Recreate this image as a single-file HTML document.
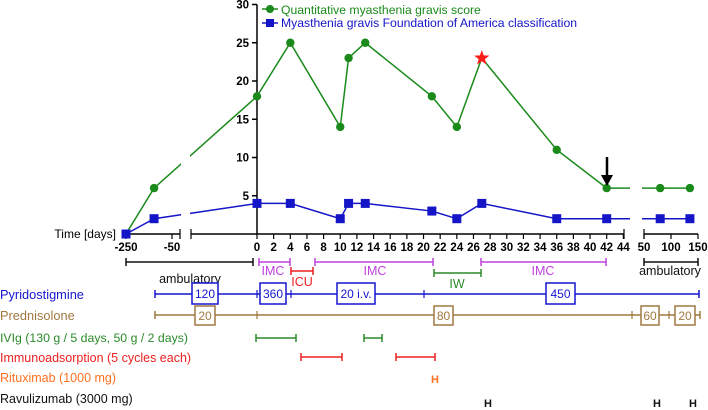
<!DOCTYPE html>
<html><head><meta charset="utf-8"><style>
html,body{margin:0;padding:0;background:#fff;}
svg{display:block;font-family:"Liberation Sans",Arial,sans-serif;}
</style></head><body>
<svg id="chart" width="708" height="410" viewBox="0 0 708 410">
<g id="axes"></g>
<g id="series"></g>
<g id="legend">
 <line x1="262" y1="9" x2="278" y2="9" stroke="#1a8a1a" stroke-width="1.5"/>
 <circle cx="270" cy="9" r="4" fill="#1a8a1a"/>
 <text x="281" y="14" font-size="12.2" fill="#1a8a1a">Quantitative myasthenia gravis score</text>
 <line x1="262" y1="23" x2="278" y2="23" stroke="#1515c8" stroke-width="1.5"/>
 <rect x="266" y="19" width="8" height="8" fill="#1515c8"/>
 <text x="281" y="27" font-size="12.2" fill="#1515c8">Myasthenia gravis Foundation of America classification</text>
</g>
<g id="timeline"></g>
</svg>
<script>
const days = [-250,-128,0,4,10,11,13,21,24,27,36,42,80,135];
const qmg  = [0,6,18,25,14,23,25,18,14,23,11,6,6,6];
const mgfa = [0,2,4,4,2,4,4,3,2,4,2,2,2,2];
const yTicks = [5,10,15,20,25,30];
const xTicksMid = [0,2,4,6,8,10,12,14,16,18,20,22,24,26,28,30,32,34,36,38,40,42,44];
const xTicksLeft = [-250,-50];
const xTicksRight = [50,100,150];

const NS="http://www.w3.org/2000/svg";
function mk(tag,attrs,parent,text){const e=document.createElementNS(NS,tag);for(const k in attrs)e.setAttribute(k,attrs[k]);if(text!==undefined)e.textContent=text;parent.appendChild(e);return e;}
function xsAny(d){ if(d<0) return 126+(d+250)*0.23; if(d<=46) return 257+d*8.326; return 644+(d-50)*0.54; }
function ys(v){ return 234-v*7.65; }

const axes=document.getElementById('axes');
mk('line',{x1:257,y1:ys(30),x2:257,y2:234,stroke:'#000','stroke-width':1.5},axes);
yTicks.forEach(t=>{
  mk('line',{x1:252,y1:ys(t),x2:257,y2:ys(t),stroke:'#000','stroke-width':1.5},axes);
  const tl=mk('text',{x:249,y:ys(t)+4,'font-size':11.5,'font-weight':'bold','text-anchor':'end'},axes,String(t));
  
  
});
mk('line',{x1:126,y1:234,x2:180,y2:234,stroke:'#000','stroke-width':1.5},axes);
mk('line',{x1:180,y1:229,x2:180,y2:239,stroke:'#000','stroke-width':1.2},axes);
mk('line',{x1:191,y1:234,x2:624,y2:234,stroke:'#000','stroke-width':1.5},axes);
mk('line',{x1:191,y1:229,x2:191,y2:239,stroke:'#000','stroke-width':1.2},axes);
mk('line',{x1:624,y1:229,x2:624,y2:239,stroke:'#000','stroke-width':1.2},axes);
mk('line',{x1:644,y1:234,x2:698,y2:234,stroke:'#000','stroke-width':1.5},axes);
mk('line',{x1:644,y1:229,x2:644,y2:239,stroke:'#000','stroke-width':1.2},axes);
function xt(arr){arr.forEach(t=>{const x=xsAny(t);
  mk('line',{x1:x,y1:234,x2:x,y2:239,stroke:'#000','stroke-width':1.2},axes);
  const tl=mk('text',{x:x,y:251,'font-size':11.5,'font-weight':'bold','text-anchor':'middle'},axes,String(t));
  
  
});}
xt(xTicksLeft);xt(xTicksMid);xt(xTicksRight);
mk('text',{x:116,y:238,'font-size':12,'text-anchor':'end'},axes,'Time [days]');

const s=document.getElementById('series');
function line(vals,color,name){
  const pts=days.map((d,i)=>xsAny(d)+','+ys(vals[i])).join(' ');
  const p=mk('polyline',{points:pts,fill:'none',stroke:color,'stroke-width':1.5},s);
  
  
}
line(qmg,'#1a8a1a','qmg-line');
line(mgfa,'#1515c8','mgfa-line');
mk('rect',{x:181,y:20,width:9,height:212,fill:'#fff'},s);
mk('rect',{x:630,y:20,width:12,height:212,fill:'#fff'},s);
days.forEach((d,i)=>{
  const x=xsAny(d);
  if(d===27){
    const cy=ys(qmg[i]);let pts=[];
    for(let k=0;k<10;k++){const r=k%2?3.3:8;const a=-Math.PI/2+k*Math.PI/5;pts.push((x+r*Math.cos(a)).toFixed(1)+','+(cy+r*Math.sin(a)).toFixed(1));}
    const st=mk('polygon',{points:pts.join(' '),fill:'#ff1a1a'},s);
    
    
  } else if(qmg[i]>0){
    const c=mk('circle',{cx:x,cy:ys(qmg[i]),r:4.2,fill:'#1a8a1a'},s);
    
    
  }
  const r=mk('rect',{x:x-4.5,y:ys(mgfa[i])-4.5,width:9,height:9,fill:'#1515c8'},s);
  
  
});
mk('line',{x1:607,y1:157,x2:607,y2:178,stroke:'#000','stroke-width':2.5},s);
mk('polygon',{points:'601,175 613,175 607,186',fill:'#000'},s);

const tg=document.getElementById('timeline');
function bar(x1,x2,y,color,name){
  const g=mk('g',{},tg);
  
  
  mk('line',{x1:x1,y1:y,x2:x2,y2:y,stroke:color,'stroke-width':1.5},g);
  mk('line',{x1:x1,y1:y-4,x2:x1,y2:y+4,stroke:color,'stroke-width':1.5},g);
  mk('line',{x1:x2,y1:y-4,x2:x2,y2:y+4,stroke:color,'stroke-width':1.5},g);
}
function txt(x,y,t,color,anchor,size){return mk('text',{x:x,y:y,'font-size':size||12.5,fill:color,'text-anchor':anchor||'middle'},tg,t);}
function box(x1,x2,y1,y2,t,color){
  mk('rect',{x:x1,y:y1,width:x2-x1,height:y2-y1,fill:'#fff',stroke:color,'stroke-width':1.5},tg);
  txt((x1+x2)/2,(y1+y2)/2+4.5,t,color,'middle',12);
}
function tick(x,y,color){mk('line',{x1:x,y1:y-4,x2:x,y2:y+4,stroke:color,'stroke-width':1.2},tg);}
const K='#111',P='#c040e0',R='#ee2020',G='#2a8a2a',B='#1515d0',BR='#a07840',O='#ff7020';
bar(126,253,262,K,'ambulatory-bar');txt(190,283,'ambulatory',K);
bar(259,290,262,P,'imc-bar-1');txt(273,275,'IMC',P);
bar(291,313,271,R,'icu-bar');txt(302,286,'ICU',R);
bar(315,433,262,P,'imc-bar-2');txt(375,275,'IMC',P);
bar(434,481,273,G,'iw-bar');txt(457,288,'IW',G);
bar(481,606,262,P,'imc-bar-3');txt(543,275,'IMC',P);
bar(644,698,262,K,'ambulatory-bar-2');txt(670,275,'ambulatory',K);

txt(0,299,'Pyridostigmine',B,'start',12.8);
bar(155,699,294,B,'pyridostigmine-bar');
[257,291,424].forEach(x=>tick(x,294,B));
box(192,218,283,304,'120',B);box(260,286,283,304,'360',B);box(337,375,283,304,'20 i.v.',B);box(546,575,283,304,'450',B);
txt(0,320,'Prednisolone',BR,'start',12.8);
bar(155,700,315,BR,'prednisolone-bar');
[257,632,669].forEach(x=>tick(x,315,BR));
box(195,215,306,325,'20',BR);box(434,453,306,325,'80',BR);box(641,659,306,325,'60',BR);box(675,695,306,325,'20',BR);
txt(0,342,'IVIg (130 g / 5 days, 50 g / 2 days)',G,'start',12.3);
bar(256,296,338,G,'ivig-bar-1');bar(364,382,338,G,'ivig-bar-2');
txt(0,362,'Immunoadsorption (5 cycles each)',R,'start',12.5);
bar(301,342,357,R,'ia-bar-1');bar(396,435,357,R,'ia-bar-2');
txt(0,382,'Rituximab (1000 mg)',O,'start',12.5);
const h1=txt(435,383,'H',O,'middle',11);h1.setAttribute('font-weight','bold');
txt(0,403,'Ravulizumab (3000 mg)',K,'start',12.5);
[488,657,693].forEach(x=>{const h=txt(x,407,'H',K,'middle',11);h.setAttribute('font-weight','bold');});
</script>
</body></html>
